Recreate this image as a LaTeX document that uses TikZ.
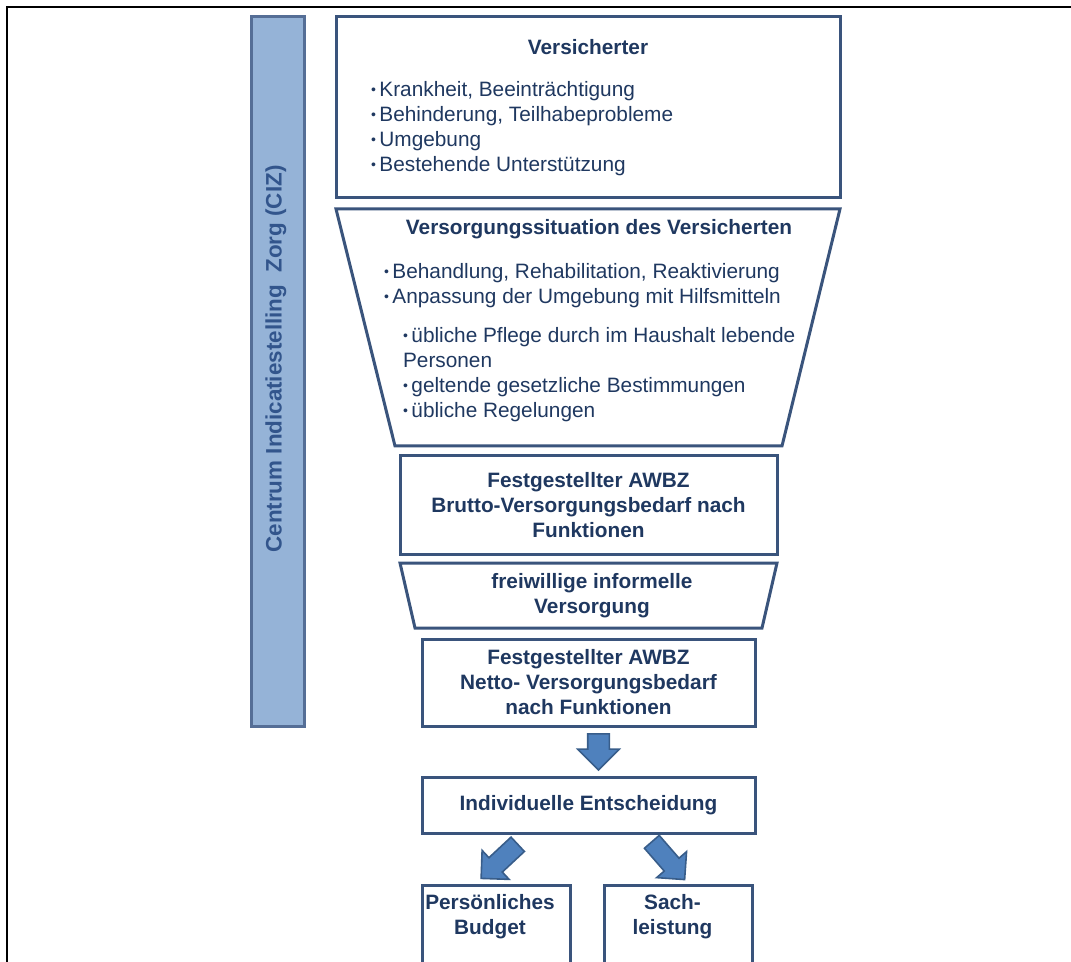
\documentclass[tikz,border=0pt]{standalone}
\usepackage{fontspec}
\setmainfont{Liberation Sans}
\usetikzlibrary{positioning,calc,shapes.arrows}
\definecolor{navy}{RGB}{31,56,96}
\definecolor{boxline}{RGB}{58,84,124}
\definecolor{sidefill}{RGB}{149,179,215}
\definecolor{sideline}{RGB}{85,110,150}
\definecolor{sidetext}{RGB}{50,85,140}
\definecolor{arrfill}{RGB}{79,129,189}
\definecolor{arrline}{RGB}{56,93,138}
\newcommand{\bul}{\raisebox{0.12em}{\fontsize{7}{7}\selectfont\textbullet}\,}

\begin{document}
\begin{tikzpicture}[x=0.5pt, y=-0.5pt, font=\fontsize{10.4}{12.5}\selectfont, text=navy,
  box/.style={draw=boxline, line width=1.5pt, fill=white, inner sep=0pt},
  funnel/.style={draw=boxline, line width=1.5pt, fill=white},
  head/.style={font=\fontsize{10.4}{12.5}\selectfont\bfseries, align=center},
  list/.style={align=left, anchor=west},
  blockarrow/.style={single arrow, draw=arrline, fill=arrfill, line width=0.8pt, inner sep=0pt,
    text height=10pt, text depth=0pt, minimum height=18pt, single arrow head extend=5pt}]
  \useasboundingbox (0,0) rectangle (1071,962);
  \draw[line width=1.2pt] (7,962) -- (7,7) -- (1071,7);

  \node[box, draw=sideline, fill=sidefill, minimum width=26.5pt, minimum height=354.5pt] (ciz) at (277.5,371.5) {};
  \node[head, rotate=90, text=sidetext, font=\fontsize{11.2}{13}\selectfont\bfseries] (ciztxt) at (276,359) {Centrum Indicatiestelling\ \ Zorg (CIZ)};

  \node[box, minimum width=252pt, minimum height=90.5pt] (vers) at (588,107.5) {};
  \node[head] (verstitle) at (588,47) {Versicherter};
  \node[list] (verslist) at (364,129) {\bul Krankheit, Beeinträchtigung\\ \bul Behinderung, Teilhabeprobleme\\ \bul Umgebung\\ \bul Bestehende Unterstützung};

  \draw[funnel] (336,209) -- (840,209) -- (782,446) -- (395,446) -- cycle;
  \node[head] (situtitle) at (599,229) {Versorgungssituation des Versicherten};
  \node[list] (situlist) at (377,286) {\bul Behandlung, Rehabilitation, Reaktivierung\\ \bul Anpassung der Umgebung mit Hilfsmitteln};
  \node[list] (normlist) at (396,375) {\bul übliche Pflege durch im Haushalt lebende\\ Personen\\ \bul geltende gesetzliche Bestimmungen\\ \bul übliche Regelungen};

  \node[box, head, minimum width=188.5pt, minimum height=49pt] (brutto) at (588.5,505) {Festgestellter AWBZ\\Brutto-Versorgungsbedarf nach\\Funktionen};

  \draw[funnel] (400,563) -- (777,563) -- (762,628) -- (415,628) -- cycle;
  \node[head] (frei) at (592,596) {freiwillige informelle\\Versorgung};

  \node[box, head, minimum width=166.5pt, minimum height=43.5pt] (netto) at (588.5,682.5) {Festgestellter AWBZ\\Netto- Versorgungsbedarf\\nach Funktionen};
  \node[box, head, minimum width=166.5pt, minimum height=28pt] (indiv) at (588.5,805) {Individuelle Entscheidung};

  \foreach \x/\n/\t in {496/pb/{Persönliches\\Budget}, 678.5/sach/{Sach-\\leistung}}
  {
    \node[box, minimum width=74pt, minimum height=45pt] (\n) at (\x,930) {};
    \node[head] (\n txt) at (\x-6,917) {\t};
  }

  \node[blockarrow, rotate=-90] (down) at ($(netto.south)!0.5!(indiv.north)+(10,-5)$) {};
  \node[blockarrow, text height=9pt, minimum height=25pt, rotate=-137] (topb) at (503,858) {};
  \node[blockarrow, text height=9pt, minimum height=25pt, rotate=-49] (tosach) at (665,857) {};
\end{tikzpicture}
\end{document}
